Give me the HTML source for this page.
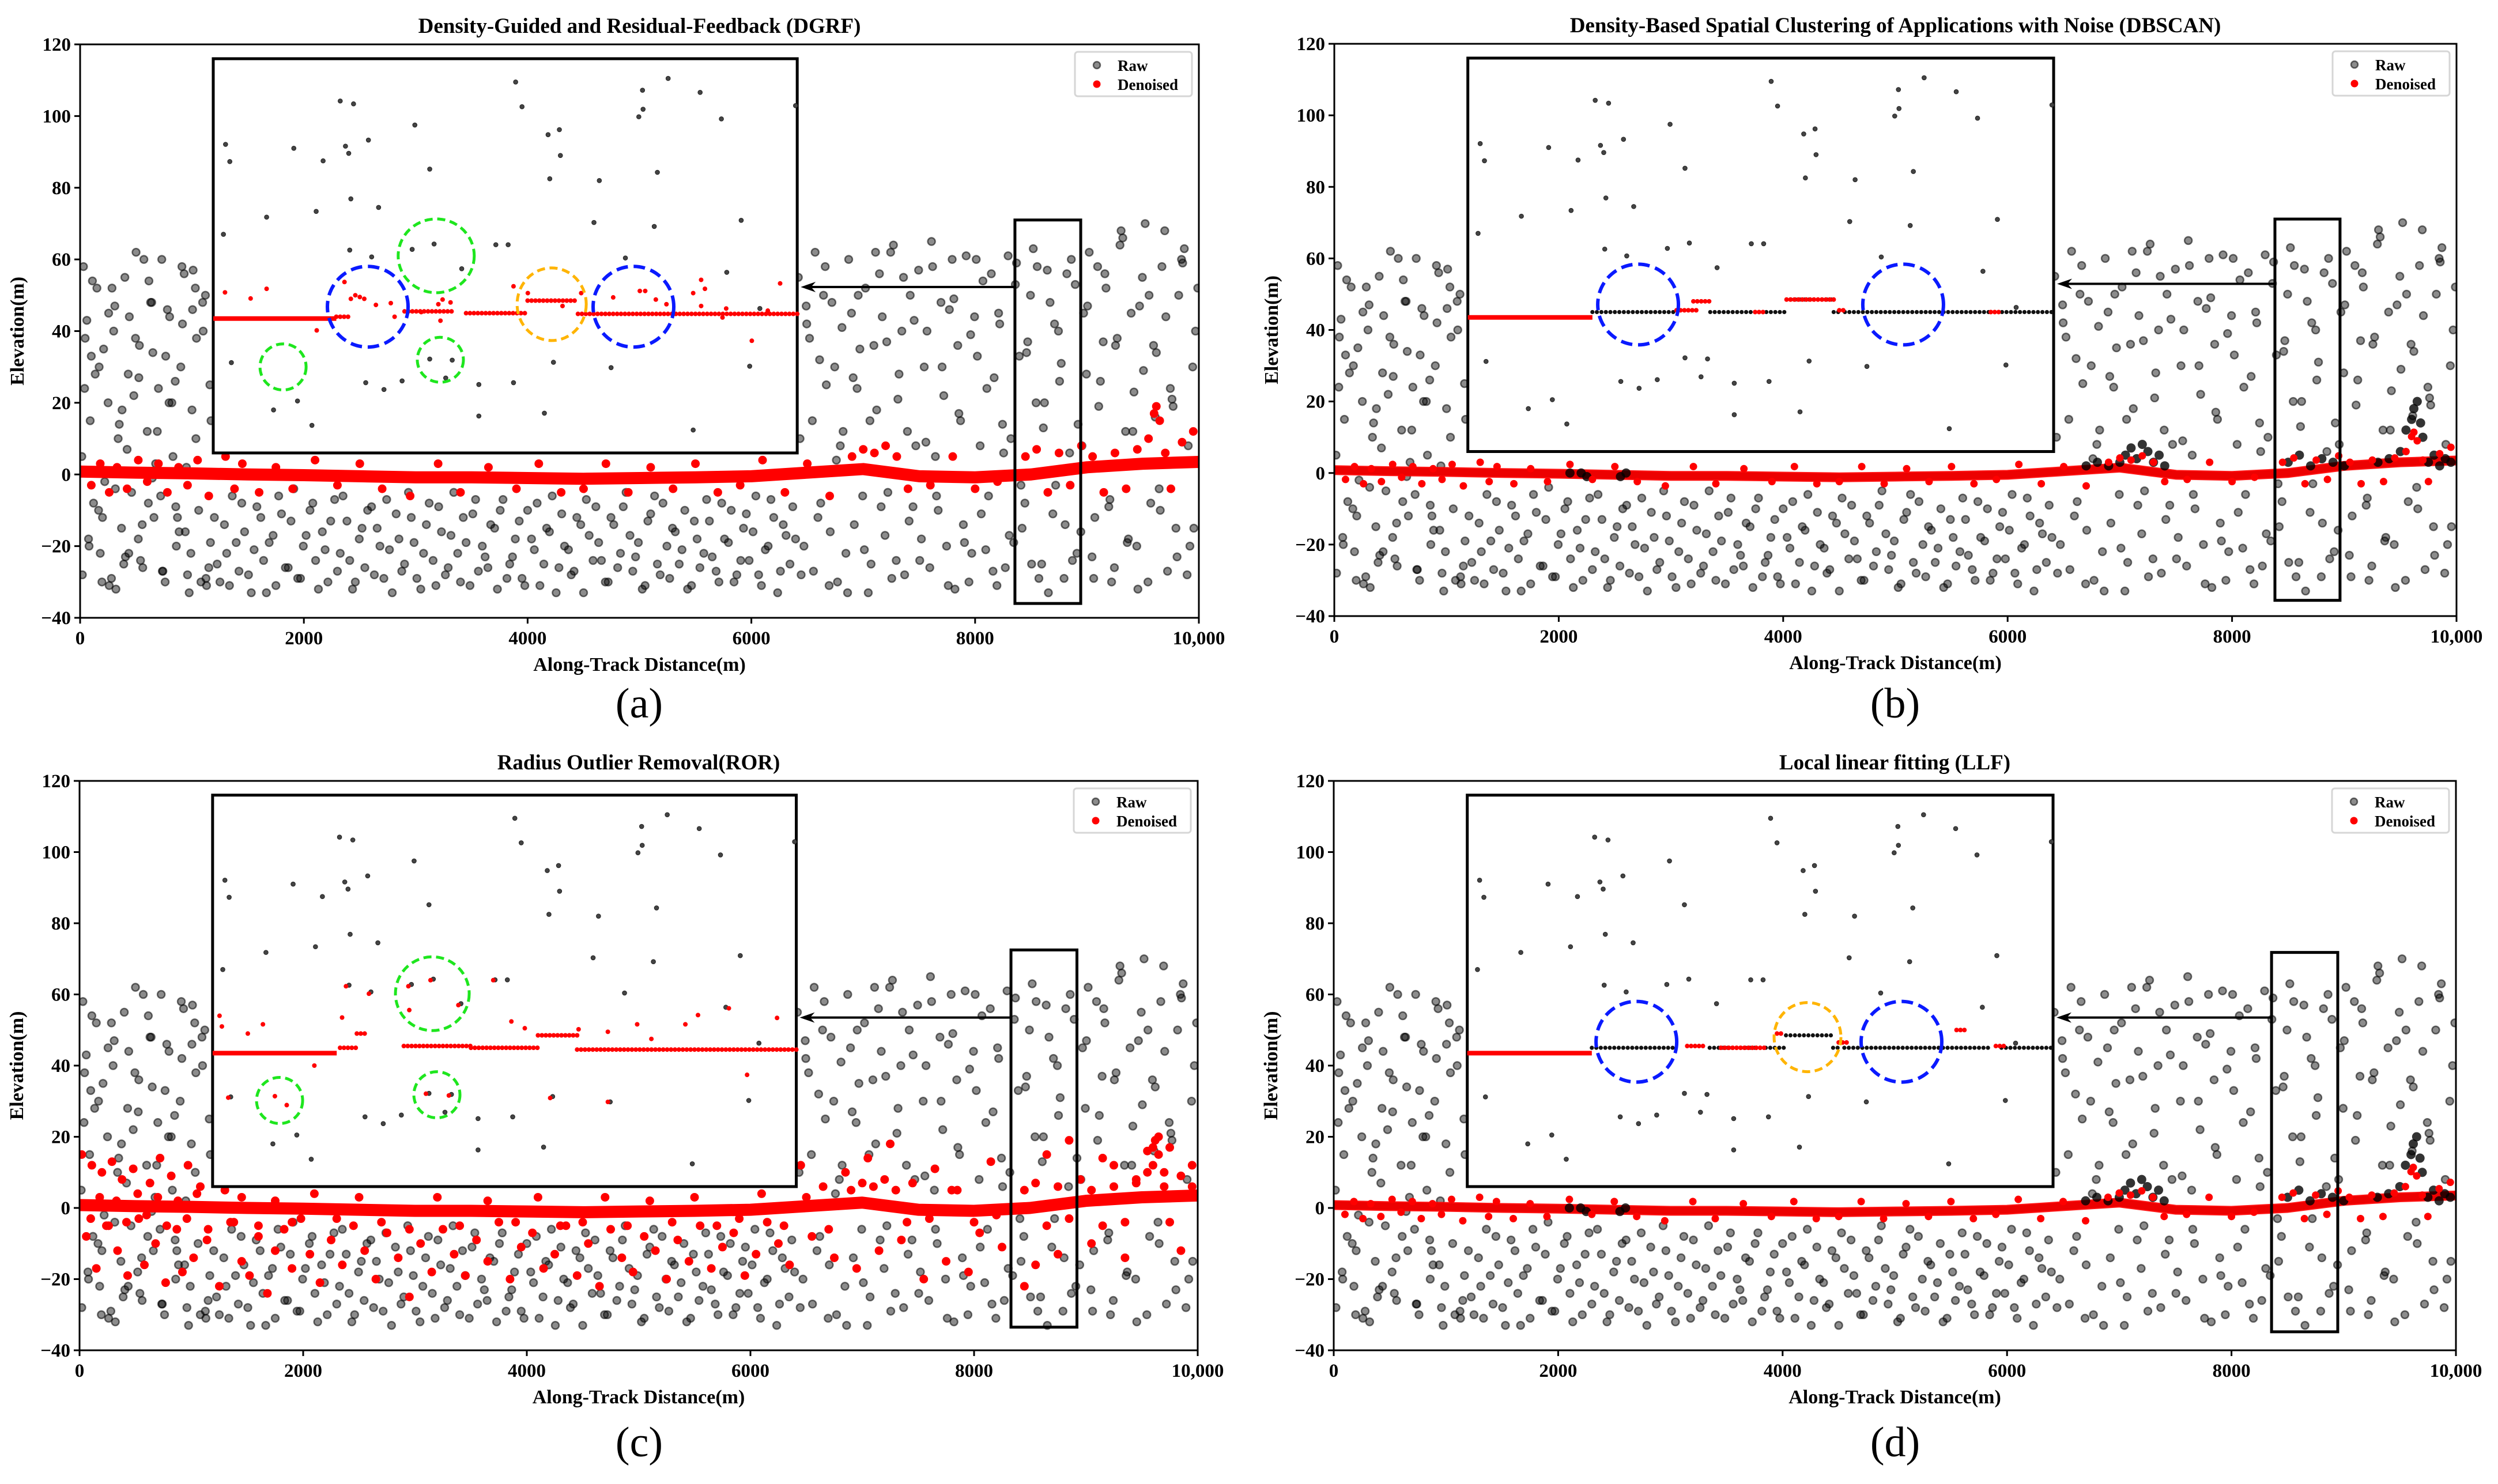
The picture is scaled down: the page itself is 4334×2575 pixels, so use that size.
<!DOCTYPE html>
<html><head><meta charset="utf-8">
<style>
html,body{margin:0;padding:0;background:#fff;}
svg{display:block;font-family:"Liberation Serif",serif;}
</style></head>
<body>
<svg id="fig" xmlns="http://www.w3.org/2000/svg" width="4334" height="2575" viewBox="0 0 4334 2575"></svg>
<script>
// ---------- shared data ----------
const xTicks = [0,2000,4000,6000,8000,10000];
const xTickLabels = ["0","2000","4000","6000","8000","10,000"];
const yTicks = [-40,-20,0,20,40,60,80,100,120];
const yTickLabels = ["\u221240","\u221220","0","20","40","60","80","100","120"];

const rawX = [30,60,90,120,150,180,210,250,280,310,340,370,400,430,460,500,530,560,600,630,660,700,730,760,800,830,860,900,930,960,1000,1030,1060,1100,1130,1160,
40,80,110,170,220,260,300,350,390,440,480,520,570,610,650,690,740,780,820,870,910,950,990,1040,1080,1120,1170,
20,100,200,320,420,540,640,720,850,940,1010,1150,
1200,1250,1310,1360,1420,1470,1530,1580,1640,1690,1750,1800,1860,1910,1970,2020,2080,2130,2190,2240,2300,2350,2410,2460,2520,2570,2630,2680,2740,2790,2850,2900,2960,3010,3070,3120,3180,3230,3290,3340,3400,3450,3510,3560,3620,3670,3730,3780,3840,3890,3950,4000,4060,4110,4170,4220,4280,4330,4390,4440,4500,4550,4610,4660,4720,4770,4830,4880,4940,4990,5050,5100,5160,5210,5270,5320,5380,5430,5490,5540,5600,5650,5710,5760,5820,5870,5930,5980,6040,6090,6150,6200,6260,6310,6370,
6420,6470,6520,6570,6620,6670,6720,6770,6820,6870,6920,6970,7020,7070,7120,7170,7220,7270,7320,7370,7420,7470,7520,7570,7620,7670,7720,7770,7820,7870,7920,7970,8020,8070,8120,8170,8220,8270,8320,8370,8420,8470,8520,8570,8620,8670,8720,8770,8820,8870,8920,8970,9020,9070,9120,9170,9220,9270,9320,9370,9420,9470,9520,9570,9620,9670,9720,9770,9820,9870,9920,9970,
6445,6495,6545,6595,6645,6695,6745,6795,6845,6895,6945,6995,7045,7095,7145,7195,7245,7295,7345,7395,7445,7495,7545,7595,7645,7695,7745,7795,7845,7895,7945,7995,8045,8095,8145,8195,8245,8295,8345,8395,8445,8495,8545,8595,8645,8695,8745,8795,8845,8895,8945,8995,9045,9095,9145,9195,9245,9295,9345,9395,9445,9495,9545,9595,9645,9695,9745,9795,9845,9895,9945,9990];
const rawY = [58,43,15,-8,52,-22,35,20,-29,47,10,-15,55,28,-5,62,36,-26,12,48,-12,24,60,-30,44,5,-20,30,56,-28,18,52,-10,40,-31,25,
24,-20,54,30,-2,-31,40,14,-25,44,22,-18,60,-8,34,12,-27,46,20,-12,58,2,-22,38,-30,50,15,
-28,33,-12,-32,7,-24,48,-6,26,-16,57,-26,
-12,-30,-22,-6,-27,-16,-33,-9,-24,-19,-31,-11,-26,-4,-29,-17,-8,-32,-21,-13,-27,-6,-24,-30,-15,-10,-28,-20,-7,-33,-18,-25,-12,-29,-22,-8,-31,-16,-26,-5,-30,-19,-11,-27,-23,-14,-32,-7,-25,-18,-29,-10,-21,-31,-15,-6,-26,-20,-28,-12,-33,-17,-9,-24,-30,-14,-22,-5,-27,-19,-31,-11,-25,-8,-29,-16,-21,-32,-13,-26,-7,-23,-30,-18,-10,-28,-15,-24,-6,-31,-20,-12,-27,-17,-9,
55,-20,38,62,-8,25,48,-30,12,60,-14,35,52,-25,18,44,-5,64,28,-28,50,8,-18,40,58,-10,22,46,-32,15,61,-22,33,54,-6,27,42,-26,10,59,-15,37,63,-29,20,48,-3,31,56,-24,14,45,62,-12,26,52,-30,38,66,-18,23,47,70,-8,34,58,-27,19,50,63,-20,40,
-28,42,15,-12,50,-31,30,8,-22,45,24,-6,-33,36,56,-17,62,-24,40,12,-9,57,30,-26,5,48,-20,60,36,-14,-30,44,8,-21,56,-31,14,61,-19,33,-8,50,20,-25,57,-11,40,-29,6,53,-16,28,-23,58,37,-9,-26,64,12,45,-20,55,-30,36,-4,68,24,-15,60,-28,30,52];

const rawX2 = [1225,1290,1335,1395,1445,1505,1555,1615,1665,1725,1775,1835,1885,1945,1995,2055,2105,2165,2215,2275,2325,2385,2435,2495,2545,2605,2655,2715,2765,2825,2875,2935,2985,3045,3095,3155,3205,3265,3315,3375,3425,3485,3535,3595,3645,3705,3755,3815,3865,3925,3975,4035,4085,4145,4195,4255,4305,4365,4415,4475,4525,4585,4635,4695,4745,4805,4855,4915,4965,5025,5075,5135,5185,5245,5295,5355,5405,5465,5515,5575,5625,5685,5735,5795,5845,5905,5955,6015,6065,6125,6175,6235,6285,6345,6395,
6435,6490,6555,6610,6660,6705,6760,6810,6860,6910,6955,7010,7060,7110,7160,7210,7255,7310,7360,7410,7455,7505,7560,7610,7655,7705,7760,7810,7855,7905,7960,8010,8055,8105,8160,8210,8255,8305,8360,8410,8460,8505,8555,8610,8655,8710,8755,8805,8860,8910,8955,9005,9060,9105,9160,9205,9255,9305,9360,9410,9455,9505,9555,9610,9655,9705,9760,9805,9855,9905,9955,
15,75,135,195,255,315,375,435,495,555,615,675,735,795,855,915,975,1035,1095,1165,45,165,285,405,525,645,765,885,1005,1125];
const rawY2 = [-25,-14,-31,-19,-8,-28,-21,-12,-33,-17,-6,-26,-13,-29,-20,-10,-24,-16,-30,-7,-22,-13,-32,-18,-26,-9,-15,-29,-21,-11,-27,-5,-19,-32,-14,-24,-9,-28,-17,-22,-12,-31,-7,-20,-26,-15,-10,-29,-23,-13,-31,-18,-8,-25,-16,-33,-11,-21,-27,-14,-7,-24,-19,-30,-12,-26,-9,-17,-23,-32,-13,-6,-28,-20,-15,-25,-10,-31,-18,-22,-13,-27,-8,-19,-30,-24,-11,-16,-28,-21,-7,-33,-14,-25,-18,
10,47,-27,32,58,-16,4,41,-33,27,50,-21,15,62,-9,37,-29,21,55,-13,43,-24,9,65,-6,30,-31,49,17,-19,39,60,-11,24,-27,45,6,-17,53,-3,34,-25,58,13,-33,42,26,-14,60,-22,8,47,-29,19,56,-7,36,68,-19,12,-32,29,50,16,-10,44,21,-23,59,8,-15,
5,-18,28,-30,45,-4,18,-22,38,-14,54,3,-27,20,-9,42,-33,10,48,-19,38,-10,52,-23,27,-1,33,-16,46,-29];

const insetRawX = [1300,1338,1281,1352,1667,1729,1910,1943,2072,2110,2172,2325,2372,2401,2420,2444,2410,2577,2606,2553,2668,2716,2878,2968,2992,3125,3164,3125,3326,3268,3411,3564,3564,3716,3826,3893,3950,3874,4150,4183,4198,4284,4293,4231,4593,4641,4746,4874,4994,5027,5032,5160,5132,5256,5480,5542,5732,5780,5909,5985,6076,6395];
const insetRawY = [92.1,87.3,67.0,31.2,71.8,18.0,91.0,20.5,13.7,73.4,87.5,104.2,91.6,89.6,76.9,103.4,62.6,93.3,60.7,25.6,74.5,23.7,26.1,62.8,97.5,85.2,64.3,32.2,31.9,26.9,57.4,25.1,16.3,64.1,64.1,109.5,102.6,25.6,17.1,94.8,82.5,96.2,89.0,31.3,70.3,82.0,29.8,60.4,99.8,107.2,101.9,84.3,69.2,110.5,12.4,106.6,99.2,56.4,70.9,30.2,46.3,102.9];

// ground band centreline, every 500 m
const bandX = [0,500,1000,1500,2000,2500,3000,3500,4000,4500,5000,5500,6000,6500,7000,7500,8000,8500,9000,9500,10000];
const bandY = [0.8,0.5,0.3,0,-0.2,-0.5,-0.8,-0.8,-1,-1.2,-1,-0.8,-0.5,0.5,1.5,-0.5,-0.8,0,2,3,3.5];

const redAX = [100,180,260,330,420,520,600,700,780,880,960,1050,1150,1300,1380,1450,1600,1750,1900,2100,2300,2500,2700,2950,3200,3400,3650,3900,4100,4300,4500,4700,4900,5100,5300,5500,5700,5900,6100,6300,6500,6700,6900,7000,7100,7200,7300,7400,7600,7800,8000,8200,8450,8550,8650,8750,8850,8950,9050,9150,9250,9350,9450,9550,9600,9620,9650,9700,9750,9850,9950];
const redAY = [-3,3,-5,2,-4,4,-2,3,-5,2,-3,4,-6,5,-4,3,-5,2,-4,4,-3,3,-4,-6,3,-5,2,-4,3,-5,-4,3,-5,2,-4,3,-5,-3,4,-5,3,-6,5,7,6,8,5,-4,-3,5,-4,-2,5,7,-5,6,-3,8,5,-5,6,-4,7,10,17,19,15,6,-4,9,12];

const redCX = [20,60,110,150,200,240,290,340,380,430,480,530,580,630,680,720,770,820,870,920,970,1020,1080,1140,1250,1350,1450,1520,1600,1680,1750,1830,1900,1980,2060,2150,2250,2350,2450,2550,2650,2750,2850,2950,3050,3150,3250,3350,3450,3550,3650,3750,3850,3950,4050,4150,4250,4350,4450,4550,4650,4750,4850,4950,5050,5150,5250,5350,5450,5550,5650,5750,5850,5950,6050,6150,6250,6350,6450,6550,6650,6750,6850,6950,7050,7150,7250,7350,7450,7550,7650,7750,7850,7950,8050,8150,8250,8450,8550,8650,8750,8850,9050,9150,9250,9350,9450,9550,9600,9650,9700,9750,9850,9950];
const redCY = [15,-8,12,-17,10,-5,13,-12,8,-19,11,-3,-16,7,-10,14,-21,9,-6,-18,12,-14,6,-9,-22,-4,-15,-19,-8,-24,-12,-6,-17,-3,-13,-21,-9,-16,-5,-12,-20,-7,-14,-25,-10,-18,-6,-13,-19,-9,-15,-4,-20,-11,-7,-17,-13,-5,-19,-10,-22,-6,-14,-18,-8,-12,-20,-9,-15,-5,-17,-11,-7,-19,-13,-4,-10,-16,12,-8,6,-14,10,-17,14,-12,18,-9,7,-20,11,-15,5,-18,-7,13,-11,-22,-16,15,-13,19,-10,14,12,-14,8,16,12,20,10,17,-12,6,15];

const blkX = [2100,2200,2250,2550,2600,6700,6800,6900,7000,7050,7100,7150,7200,7250,7300,7350,7400,8500,8600,8700,8800,8900,9000,9300,9400,9500,9550,9600,9620,9650,9680,9700,9750,9800,9850,9900,9950];
const blkY = [0,0,-1,-1,0,2,3,2,3,5,7,4,8,6,3,5,2,3,5,2,4,3,2,3,4,6,12,15,18,20,14,10,3,5,2,4,3];

// inset red dense/dotted segments per method: [x0, x1, y]
const segA = [[1190,2290,43.5],[2290,2400,44],[2900,3350,45.5],[3450,4000,45],[4000,4450,48.5],[4450,6410,44.8]];
const segB = [[1190,2300,43.5],[3050,3250,45.5],[3200,3350,48],[3750,3850,45],[4030,4450,48.5],[4500,4550,45.5],[5850,5950,45]];
const segC = [[1190,2300,43.5],[2330,2480,45],[2480,2560,49],[2900,3500,45.5],[3500,4100,45],[4100,4450,48.5],[4450,6410,44.5]];
const segD = [[1190,2300,43.5],[3150,3300,45.5],[3450,3850,45],[3950,4000,49],[4500,4600,46.5],[5550,5650,50],[5900,6000,45.5]];
const blackSegBD = [[2300,3050,45],[3350,3750,45],[3850,4030,45],[4450,4500,45],[4550,5850,45],[5950,6410,45],[4030,4450,48.5]];

const insetRedAX = [1295,1667,1524,2115,2363,2420,2460,2500,2540,2644,2777,2811,3049,3202,3240,3311,3221,3874,4002,4479,4312,4765,5003,5051,5146,5241,5480,5551,5585,5551,5775,5742,6004,6257,6147];
const insetRedAY = [50.8,51.8,49.1,40.2,53.7,49,50,49.5,49,47.3,47.8,44,45.3,47.5,48.8,48,42.9,52.5,50.6,50.6,47,49.4,51.2,51.2,48.8,47.5,50.6,54.3,51.8,47,46.3,43.8,37.3,53.3,45.7];
const insetRedCX = [1252,1273,1505,1640,1330,1747,1853,2100,2383,2588,2348,2941,3139,2949,3388,3098,3303,3700,3862,3982,4209,4463,4725,4725,4987,5114,5418,5531,5807,5970,6238];
const insetRedCY = [54,51,49,51.6,31,31.4,28.9,40,62.3,60.2,53.5,62.3,64,55.6,57,32.1,31.6,64,52.4,50.5,30.9,50.2,29.8,49.5,51.6,47.5,51.6,54.2,56.1,37.4,53.4];

// ---------- panels ----------
const panels = [
 {id:"a", title:"Density-Guided and Residual-Feedback (DGRF)", L:139,R:2080,T:77,B:1072, rect:[8356,8944,71,-36], arrowY:52.3, cap:[1109,1245],
  circles:[["blue",2571,46.8,70,70],["green",3183,61,66,64],["green",1814,30,40,40],["green",3220,32,40,39],["orange",4215,47.5,60,63],["blue",4946,46.8,70,70]]},
 {id:"b", title:"Density-Based Spatial Clustering of Applications with Noise (DBSCAN)", L:2315,R:4262,T:76,B:1069, rect:[8382,8962,71,-35.6], arrowY:52.9, cap:[3288,1245],
  circles:[["blue",2707,47.1,70,70],["blue",5069,47.1,70,70]]},
 {id:"c", title:"Radius Outlier Removal(ROR)", L:138,R:2078,T:1355,B:2343, rect:[8330,8920,72.5,-33.5], arrowY:53.5, cap:[1109,2527],
  circles:[["green",3155,60.2,64,64],["green",1789,30.2,40,40],["green",3196,31.8,40,40]]},
 {id:"d", title:"Local linear fitting (LLF)", L:2314,R:4261,T:1355,B:2343, rect:[8357,8947,71.8,-34.8], arrowY:53.5, cap:[3288,2527],
  circles:[["blue",2697,46.7,70,70],["orange",4222,48,58,60],["blue",5059,46.7,70,70]]}
];
const colorMap = {blue:"#0a1aff", green:"#1ee61e", orange:"#ffb400"};

const NS = "http://www.w3.org/2000/svg";
const svg = document.getElementById("fig");
function mk(tag, attrs, parent){
  const e = document.createElementNS(NS, tag);
  for (const k in attrs) e.setAttribute(k, attrs[k]);
  (parent||svg).appendChild(e);
  return e;
}

panels.forEach(p => {
  const g = mk("g", {});
  
  
  const sx = x => p.L + x/10000*(p.R-p.L);
  const sy = y => p.T + (120-y)/160*(p.B-p.T);

  const cp = mk("clipPath", {id:"clip"+p.id}, g);
  mk("rect", {x:p.L, y:p.T, width:p.R-p.L, height:p.B-p.T}, cp);
  const plot = mk("g", {"clip-path":"url(#clip"+p.id+")"}, g);
  
  

  // raw points
  const rawG = mk("g", {}, plot);
  
  
  const drawRaw = (xs, ys) => {
    const n = Math.min(xs.length, ys.length);
    for (let i=0;i<n;i++){
      mk("circle", {cx:sx(xs[i]), cy:sy(ys[i]), r:6.5, fill:"#000", "fill-opacity":0.45, stroke:"#000", "stroke-opacity":0.55, "stroke-width":2.5}, rawG);
    }
  };
  drawRaw(rawX, rawY);
  drawRaw(rawX2, rawY2);

  // denoised band
  const bandG = mk("g", {}, plot);
  
  
  const pts = bandX.map((x,i)=>sx(x)+","+sy(bandY[i])).join(" ");
  const bw = (p.id==="a"||p.id==="c") ? 21 : 17;
  if (p.id==="b"||p.id==="d"){
    mk("polyline", {points:pts, fill:"none", stroke:"#111", "stroke-width":13, "stroke-linejoin":"round"}, bandG);
  }
  mk("polyline", {points:pts, fill:"none", stroke:"#ff0000", "stroke-width":bw, "stroke-linejoin":"round", "stroke-opacity": (p.id==="b"||p.id==="d")?0.92:1}, bandG);

  const redDot = (x,y,r)=>mk("circle",{cx:sx(x),cy:sy(y),r:r,fill:"#ff0000"},bandG);
  if (p.id==="a"||p.id==="c"){
    for (let i=0;i<Math.min(redAX.length,redAY.length);i++) redDot(redAX[i],redAY[i],7.5);
  }
  if (p.id==="c"){
    for (let i=0;i<Math.min(redCX.length,redCY.length);i++) redDot(redCX[i],redCY[i],7.5);
  }
  if (p.id==="b"||p.id==="d"){
    for (let i=0;i<Math.min(blkX.length,blkY.length);i++){
      mk("circle",{cx:sx(blkX[i]),cy:sy(blkY[i]),r:8,fill:"#000","fill-opacity":0.8},bandG);
    }
    for (let i=0;i<Math.min(redAX.length,redAY.length);i++){
      redDot(redAX[i], redAY[i]*0.6, 6.5);
    }
  }

  // inset
  const ins = mk("g", {}, g);
  
  
  mk("rect", {x:sx(1190), y:sy(116), width:sx(6410)-sx(1190), height:sy(6)-sy(116), fill:"#fff", stroke:"#000", "stroke-width":5}, ins);
  for (let i=0;i<Math.min(insetRawX.length,insetRawY.length);i++){
    mk("circle",{cx:sx(insetRawX[i]),cy:sy(insetRawY[i]),r:3.8,fill:"#444",stroke:"#222","stroke-width":1}, ins);
  }
  const segs = {a:segA,b:segB,c:segC,d:segD}[p.id];
  if (p.id==="b"||p.id==="d"){
    blackSegBD.forEach(s=>{
      for (let x=s[0]; x<=s[1]; x+=40) mk("circle",{cx:sx(x),cy:sy(s[2]),r:3.6,fill:"#111"},ins);
    });
  }
  segs.forEach((s,k)=>{
    if (k===0){
      mk("line",{x1:sx(s[0]),y1:sy(s[2]),x2:sx(s[1]),y2:sy(s[2]),stroke:"#ff0000","stroke-width":8}, ins);
    } else {
      for (let x=s[0]; x<=s[1]; x+=35) mk("circle",{cx:sx(x),cy:sy(s[2]),r:4,fill:"#ff0000"},ins);
    }
  });
  if (p.id==="a"){
    for (let i=0;i<Math.min(insetRedAX.length,insetRedAY.length);i++) mk("circle",{cx:sx(insetRedAX[i]),cy:sy(insetRedAY[i]),r:4,fill:"#ff0000"},ins);
  }
  if (p.id==="c"){
    for (let i=0;i<Math.min(insetRedCX.length,insetRedCY.length);i++) mk("circle",{cx:sx(insetRedCX[i]),cy:sy(insetRedCY[i]),r:4,fill:"#ff0000"},ins);
  }
  p.circles.forEach(c=>{
    const e = mk("ellipse",{cx:sx(c[1]),cy:sy(c[2]),rx:c[3],ry:c[4],fill:"none",stroke:colorMap[c[0]],"stroke-width":c[0]==="blue"?6:5,"stroke-dasharray":c[0]==="blue"?"20,10":"14,8"}, ins);
    
    
  });

  // small rectangle + arrow
  const r = p.rect;
  const sr = mk("rect",{x:sx(r[0]),y:sy(r[2]),width:sx(r[1])-sx(r[0]),height:sy(r[3])-sy(r[2]),fill:"none",stroke:"#000","stroke-width":5}, g);
  
  
  const ay = sy(p.arrowY);
  const ax0 = sx(r[0]), ax1 = sx(6410)+6;
  const arr = mk("g",{},g);
  
  
  mk("line",{x1:ax0,y1:ay,x2:ax1+14,y2:ay,stroke:"#000","stroke-width":4},arr);
  mk("polygon",{points:`${ax1},${ay} ${ax1+26},${ay-9} ${ax1+18},${ay} ${ax1+26},${ay+9}`,fill:"#000"},arr);

  // axes frame
  const fr = mk("rect",{x:p.L,y:p.T,width:p.R-p.L,height:p.B-p.T,fill:"none",stroke:"#000","stroke-width":3},g);
  
  

  const xt = mk("g",{},g);
  
  
  xTicks.forEach((v,i)=>{
    mk("line",{x1:sx(v),y1:p.B,x2:sx(v),y2:p.B+10,stroke:"#000","stroke-width":3},xt);
    const t = mk("text",{x:sx(v),y:p.B+46,"font-size":33,"text-anchor":"middle","font-weight":"bold"},xt);
    t.textContent = xTickLabels[i];
  });
  const yt = mk("g",{},g);
  
  
  yTicks.forEach((v,i)=>{
    mk("line",{x1:p.L-10,y1:sy(v),x2:p.L,y2:sy(v),stroke:"#000","stroke-width":3},yt);
    const t = mk("text",{x:p.L-16,y:sy(v)+11,"font-size":33,"text-anchor":"end","font-weight":"bold"},yt);
    t.textContent = yTickLabels[i];
  });

  const xl = mk("text",{x:(p.L+p.R)/2,y:p.B+92,"font-size":34,"text-anchor":"middle","font-weight":"bold"},g);
  xl.textContent = "Along-Track Distance(m)";
  
  
  const yl = mk("text",{x:0,y:0,"font-size":34,"text-anchor":"middle","font-weight":"bold",transform:`translate(${p.L-98},${(p.T+p.B)/2}) rotate(-90)`},g);
  yl.textContent = "Elevation(m)";
  
  
  const tt = mk("text",{x:(p.L+p.R)/2,y:p.T-20,"font-size":37,"text-anchor":"middle","font-weight":"bold"},g);
  tt.textContent = p.title;
  
  

  const lg = mk("g",{},g);
  
  
  const lx = p.R - 215, ly = p.T + 13;
  mk("rect",{x:lx,y:ly,width:203,height:77,rx:5,fill:"#fff",stroke:"#d6d6d6","stroke-width":3},lg);
  const e1 = mk("g",{},lg);
  
  
  mk("circle",{cx:lx+38,cy:ly+23,r:6,fill:"#000","fill-opacity":0.45,stroke:"#000","stroke-opacity":0.55,"stroke-width":2.5},e1);
  const t1 = mk("text",{x:lx+74,y:ly+33,"font-size":27,"font-weight":"bold"},e1);
  t1.textContent = "Raw";
  const e2 = mk("g",{},lg);
  
  
  mk("circle",{cx:lx+38,cy:ly+56,r:6.5,fill:"#ff0000"},e2);
  const t2 = mk("text",{x:lx+74,y:ly+66,"font-size":27,"font-weight":"bold"},e2);
  t2.textContent = "Denoised";

  const cap = mk("text",{x:p.cap[0],y:p.cap[1],"font-size":74,"text-anchor":"middle"},svg);
  cap.textContent = "(" + p.id + ")";
  
  
});
</script>
</body></html>
